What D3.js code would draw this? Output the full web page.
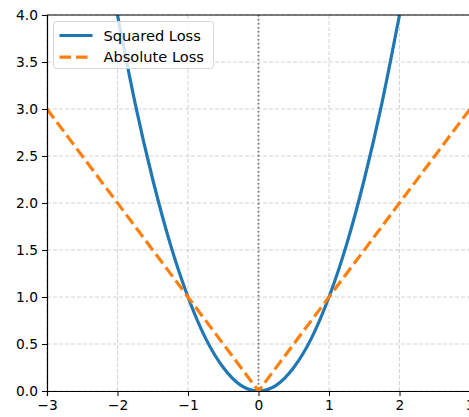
<!DOCTYPE html>
<html>
<head>
<meta charset="utf-8">
<script src="https://cdn.jsdelivr.net/npm/d3@7"></script>
<style>
  body { margin: 0; background: #fff; }
  svg { display: block; font-family: "DejaVu Sans", sans-serif; }
</style>
</head>
<body>
<figure id="chart" style="margin:0"></figure>
<script>
// values
const seriesNames = ["Squared Loss", "Absolute Loss"];
const squaredX = [-2, -1.75, -1.5, -1.25, -1, -0.75, -0.5, -0.25, 0, 0.25, 0.5, 0.75, 1, 1.25, 1.5, 1.75, 2];
const squaredY = [4, 3.06, 2.25, 1.56, 1, 0.56, 0.25, 0.06, 0, 0.06, 0.25, 0.56, 1, 1.56, 2.25, 3.06, 4];
const absoluteX = [-3, 0, 3];
const absoluteY = [3, 0, 3];
const xTicks = [-3, -2, -1, 0, 1, 2, 3];
const yTicks = [0, 0.5, 1, 1.5, 2, 2.5, 3, 3.5, 4];

const width = 469, height = 417;
const margin = { top: 15, right: -1, bottom: 26, left: 47 };
const innerW = width - margin.left - margin.right;
const innerH = height - margin.top - margin.bottom;

const svg = d3.select("#chart").append("svg")
  .attr("width", width)
  .attr("height", height);

const g = svg.append("g")
  .attr("transform", "translate(" + margin.left + "," + margin.top + ")");

const x = d3.scaleLinear().domain([-3, 3]).range([0, innerW]);
const y = d3.scaleLinear().domain([0, 4]).range([innerH, 0]);

g.append("clipPath").attr("id", "clip")
  .append("rect").attr("width", innerW).attr("height", innerH);

// grid
g.append("g").selectAll("line").data(xTicks).enter().append("line")
  .attr("x1", d => x(d)).attr("x2", d => x(d))
  .attr("y1", 0).attr("y2", innerH)
  .attr("stroke", "#b0b0b0").attr("stroke-opacity", 0.55)
  .attr("stroke-width", 1).attr("stroke-dasharray", "4,2");
g.append("g").selectAll("line").data(yTicks).enter().append("line")
  .attr("y1", d => y(d)).attr("y2", d => y(d))
  .attr("x1", 0).attr("x2", innerW)
  .attr("stroke", "#b0b0b0").attr("stroke-opacity", 0.55)
  .attr("stroke-width", 1).attr("stroke-dasharray", "4,2");

// zero line
g.append("line")
  .attr("x1", x(0)).attr("x2", x(0)).attr("y1", 0).attr("y2", innerH)
  .attr("stroke", "#808080").attr("stroke-width", 2)
  .attr("stroke-dasharray", "1.6,2.4");

const plot = g.append("g").attr("clip-path", "url(#clip)");

const sqLine = d3.line().x(d => x(d[0])).y(d => y(d[1])).curve(d3.curveNatural);
plot.append("path")
  .datum(squaredX.map((v, i) => [v, squaredY[i]]))
  .attr("d", sqLine)
  .attr("fill", "none").attr("stroke", "#1f77b4").attr("stroke-width", 3.2);

const absLine = d3.line().x(d => x(d[0])).y(d => y(d[1]));
plot.append("path")
  .datum(absoluteX.map((v, i) => [v, absoluteY[i]]))
  .attr("d", absLine)
  .attr("fill", "none").attr("stroke", "#ff7f0e").attr("stroke-width", 3.2)
  .attr("stroke-dasharray", "11.5,5");

// axes
const xAxis = g.append("g")
  .attr("transform", "translate(0," + innerH + ")")
  .call(d3.axisBottom(x).tickValues(xTicks).tickSize(5).tickPadding(4)
    .tickFormat(d => d < 0 ? "\u2212" + Math.abs(d) : d));
const yAxis = g.append("g")
  .call(d3.axisLeft(y).tickValues(yTicks).tickSize(5).tickPadding(4).tickFormat(d3.format(".1f")));
[xAxis, yAxis].forEach(a => {
  a.selectAll("text").attr("font-size", 13.8).attr("fill", "#000").attr("font-family", "DejaVu Sans");
  a.selectAll("line").attr("stroke", "#000").attr("stroke-width", 1);
  a.select(".domain").attr("stroke", "#000").attr("stroke-width", 1.2);
});
// top spine
g.append("line").attr("x1", 0).attr("x2", innerW).attr("y1", 0).attr("y2", 0)
  .attr("stroke", "#000").attr("stroke-width", 1.2);

// legend
const lg = g.append("g").attr("transform", "translate(6.5,6.5)");
lg.append("rect")
  .attr("width", 160).attr("height", 47).attr("rx", 3)
  .attr("fill", "#fff").attr("fill-opacity", 0.8)
  .attr("stroke", "#d6d6d6").attr("stroke-width", 1);
const styles = [
  { color: "#1f77b4", dash: null },
  { color: "#ff7f0e", dash: "11.5,5" }
];
seriesNames.forEach((name, i) => {
  const row = lg.append("g").attr("transform", "translate(0," + (14 + i * 21.6) + ")");
  row.append("line").attr("x1", 6).attr("x2", 39).attr("y1", 0).attr("y2", 0)
    .attr("stroke", styles[i].color).attr("stroke-width", 3.2)
    .attr("stroke-dasharray", styles[i].dash);
  row.append("text").attr("x", 50).attr("y", 0).attr("dy", "0.35em")
    .attr("font-size", 14.6).attr("fill", "#000").text(name);
});
</script>
</body>
</html>
